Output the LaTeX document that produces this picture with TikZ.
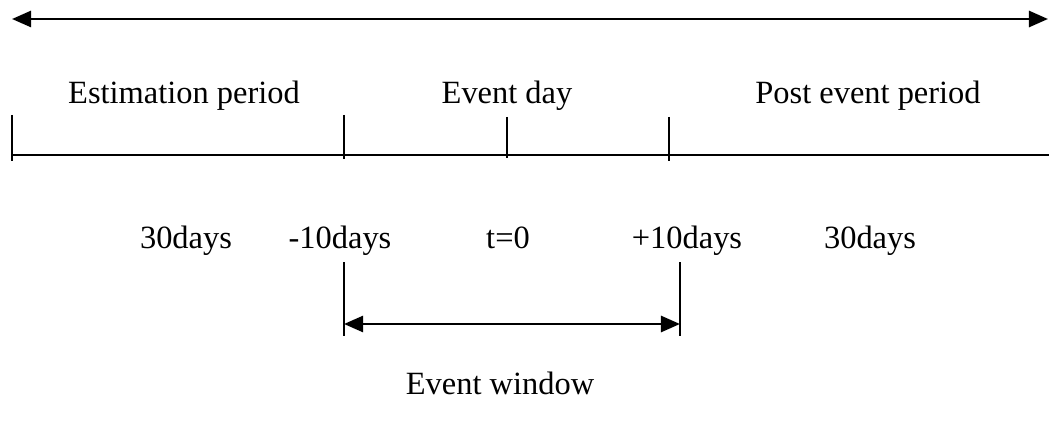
\documentclass[tikz,border=0pt]{standalone}
\usepackage{fontspec}
\setmainfont{Liberation Serif}
\usetikzlibrary{arrows.meta}

\begin{document}
\begin{tikzpicture}[x=0.013cm,y=-0.013cm,
  lbl/.style={anchor=base,inner sep=0pt,font=\fontsize{12}{14}\selectfont},
  tick/.style={line width=0.8pt},
  arr/.style={line width=1pt,{Triangle[length=2.5mm,width=2.1mm]}-{Triangle[length=2.5mm,width=2.1mm]}}]
  \useasboundingbox (0,0) rectangle (1049,427);

  % whole period
  \coordinate (topL) at (12,19);
  \coordinate (topR) at (1048,19);
  \draw[arr] (topL) -- (topR);

  \node[lbl] (est) at (184,104) {Estimation period};
  \node[lbl] (evd) at (507,104) {Event day};
  \node[lbl] (post) at (868,104) {Post event period};

  % time line with ticks
  \coordinate (lineL) at (12,155);
  \coordinate (lineR) at (1049,155);
  \draw[line width=0.8pt] (lineL) -- (lineR);
  \draw[tick] (12,115) -- (12,161);
  \draw[tick] (344,115) -- (344,159);
  \draw[tick] (507,117) -- (507,158);
  \draw[tick] (669,117) -- (669,161);

  \node[lbl] (d1) at (186,249) {30days};
  \node[lbl] (d2) at (340,249) {-10days};
  \node[lbl] (d3) at (508,249) {t=0};
  \node[lbl] (d4) at (687,249) {+10days};
  \node[lbl] (d5) at (870,249) {30days};

  % event window
  \draw[tick] (344,262) -- (344,336);
  \draw[tick] (680,262) -- (680,336);
  \coordinate (winL) at (344,324);
  \coordinate (winR) at (680,324);
  \draw[arr] (winL) -- (winR);
  \node[lbl] (win) at (500,394) {Event window};
\end{tikzpicture}
\end{document}
